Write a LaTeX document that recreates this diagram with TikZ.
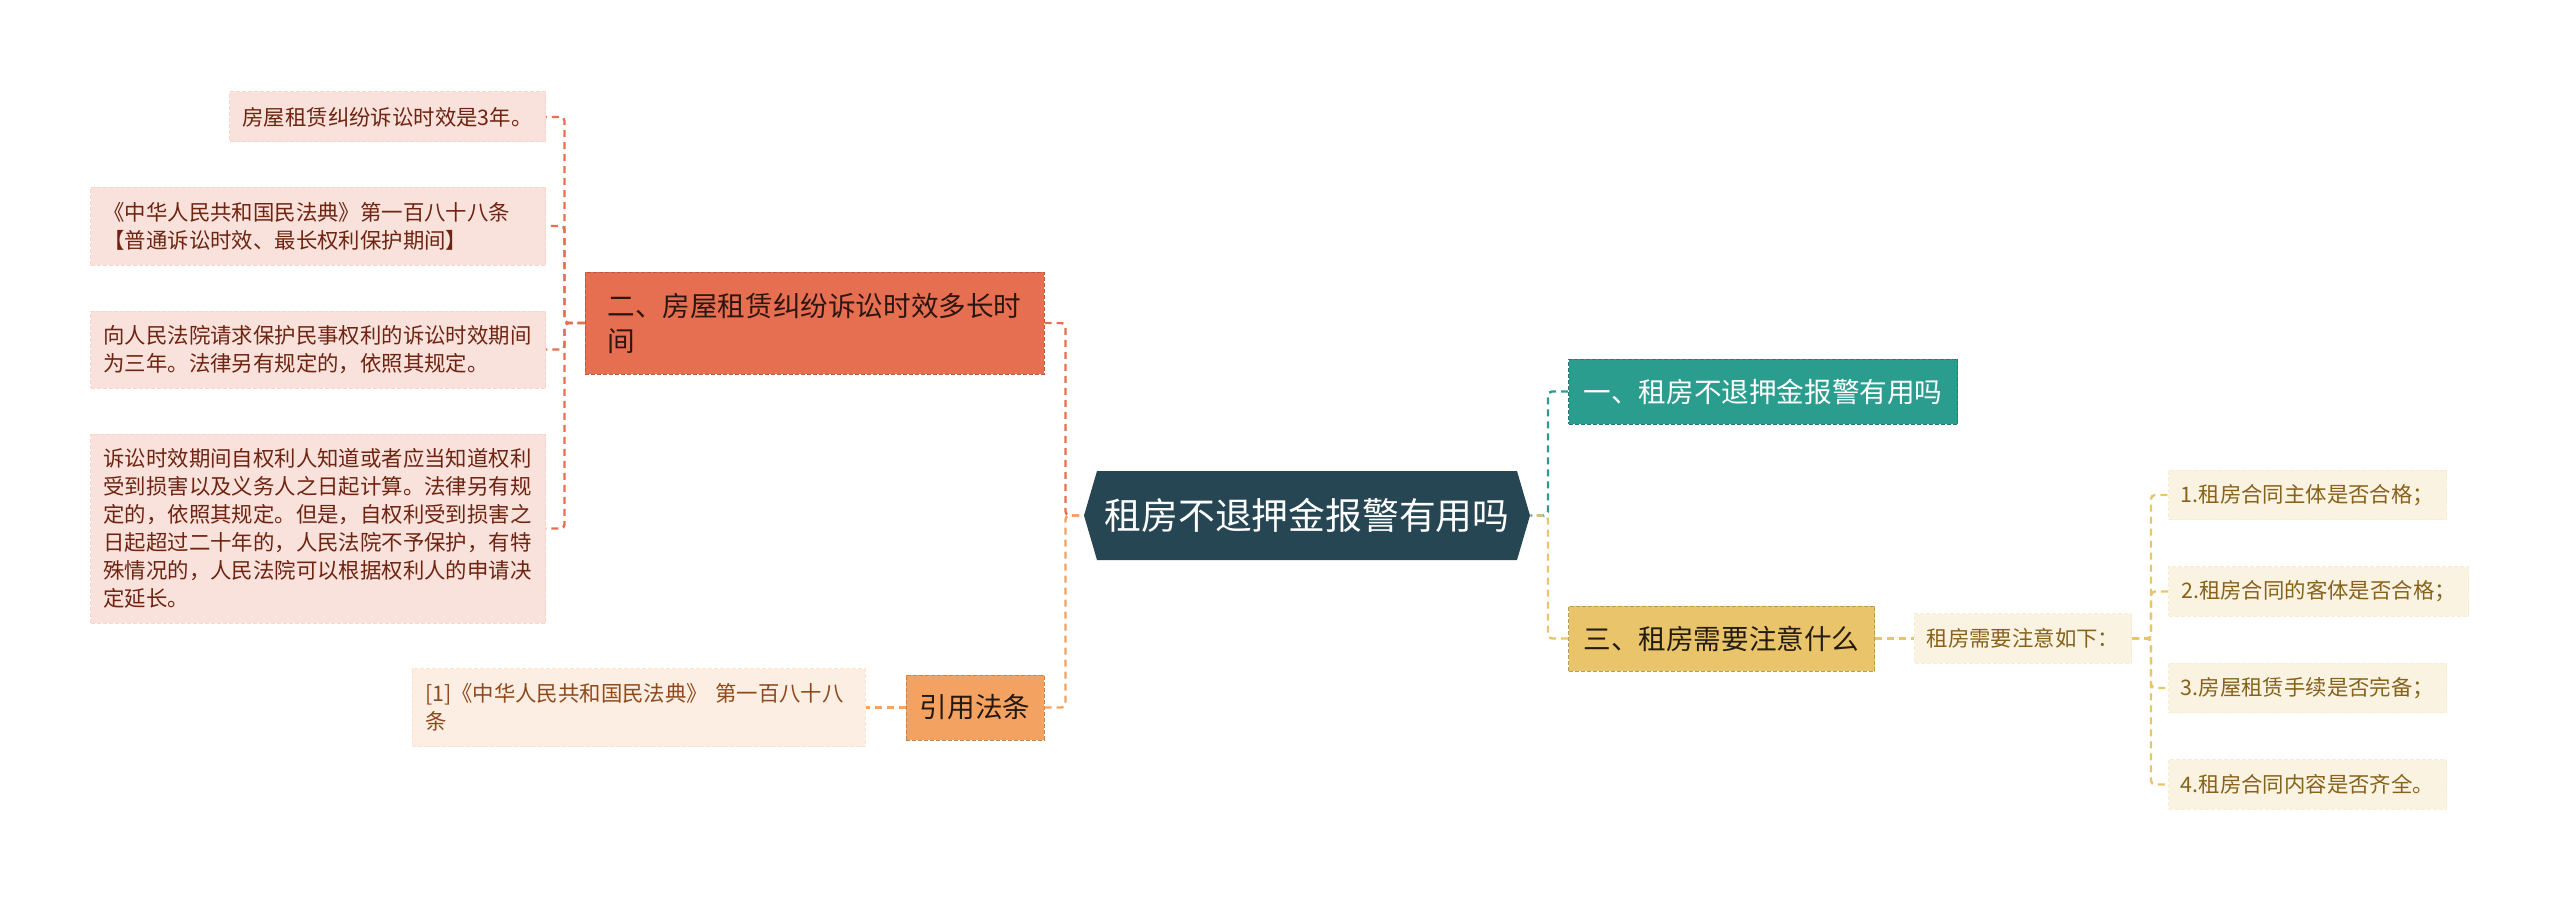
\documentclass[tikz,border=0pt]{standalone}
\usepackage{fontspec}
\setmainfont{Noto Sans CJK SC}
\usetikzlibrary{positioning}
\definecolor{rootbg}{HTML}{264653}
\definecolor{redc}{HTML}{E76F51}
\definecolor{orgc}{HTML}{F4A261}
\definecolor{tealc}{HTML}{2A9D8F}
\definecolor{yelc}{HTML}{E9C46A}
\definecolor{pinkbg}{HTML}{F9E2DC}
\definecolor{pinktxt}{HTML}{6E2410}
\definecolor{peachbg}{HTML}{FDEEE3}
\definecolor{peachtxt}{HTML}{8E4A1C}
\definecolor{creambg}{HTML}{FBF3E1}
\definecolor{creamtxt}{HTML}{86621A}

\tikzset{
  box/.style={inner sep=0pt,align=left,dashed,dash pattern=on 2pt off 1pt,line width=0.5pt},
  leafsize/.style={font=\fontsize{10.7pt}{14pt}\selectfont},
  leafL/.style={box,leafsize,fill=pinkbg,draw=redc!30,text=pinktxt,inner xsep=6.5pt},
  leafO/.style={box,leafsize,fill=peachbg,draw=orgc!30,text=peachtxt,inner xsep=6.5pt},
  leafY/.style={box,leafsize,fill=creambg,draw=yelc!30,text=creamtxt,minimum height=24.75pt},
  branch/.style={box,font=\fontsize{13.8pt}{17.5pt}\selectfont,minimum height=32.5pt},
  lnk/.style={line width=1.2pt,dash pattern=on 3.5pt off 2.5pt,rounded corners=2pt}
}

\begin{document}
\begin{tikzpicture}[x=0.5pt,y=-0.5pt,node distance=23pt]
\useasboundingbox (0,0) rectangle (2560,899);

% centre
\node (root) [inner sep=0pt,minimum width=223pt,minimum height=44.5pt,text=white,
  font=\fontsize{18.4pt}{22pt}\selectfont,
  path picture={\fill[rootbg] (path picture bounding box.west)
    -- ([xshift=6.5pt]path picture bounding box.north west)
    -- ([xshift=-6.5pt]path picture bounding box.north east)
    -- (path picture bounding box.east)
    -- ([xshift=-6.5pt]path picture bounding box.south east)
    -- ([xshift=6.5pt]path picture bounding box.south west) -- cycle;}]
  at (1307,515.5) {租房不退押金报警有用吗};

% left side
\node (b2) [branch,fill=redc,draw=redc!80!black,text=black!80!redc,minimum width=229.5pt,minimum height=51pt]
  at (814.5,323) {二、房屋租赁纠纷诉讼时效多长时\\间};
\node (l1) [leafL,anchor=east,text width=145pt,minimum height=25pt] at (546,117) {房屋租赁纠纷诉讼时效是3年。};
\node (l2) [leafL,anchor=east,text width=214.5pt,minimum height=39pt] at (546,226)
  {《中华人民共和国民法典》第一百八十八条\\【普通诉讼时效、最长权利保护期间】};
\node (l3) [leafL,anchor=east,text width=214.5pt,minimum height=38.5pt] at (546,349.5)
  {向人民法院请求保护民事权利的诉讼时效期间\\为三年。法律另有规定的，依照其规定。};
\node (l4) [leafL,anchor=east,text width=214.5pt,minimum height=94.5pt] at (546,528.5)
  {诉讼时效期间自权利人知道或者应当知道权利\\受到损害以及义务人之日起计算。法律另有规\\定的，依照其规定。但是，自权利受到损害之\\日起超过二十年的，人民法院不予保护，有特\\殊情况的，人民法院可以根据权利人的申请决\\定延长。};
\node (b4) [branch,fill=orgc,draw=orgc!80!black,text=black!85!orgc,minimum width=69pt] at (975,707.5) {引用法条};
\node (l5) [leafO,left=20pt of b4,text width=213.5pt,minimum height=39pt]
  {[1]《中华人民共和国民法典》 第一百八十八\\条};

% right side
\node (b1) [branch,fill=tealc,draw=tealc!80!black,text=white,anchor=west,minimum width=194.5pt] at (1568,391.5) {一、租房不退押金报警有用吗};
\node (b3) [branch,fill=yelc,draw=yelc!80!black,text=black!85!yelc,anchor=west,minimum width=153pt] at (1568,638.5) {三、租房需要注意什么};
\node (r0) [leafY,right=19.5pt of b3,minimum width=108.5pt] {租房需要注意如下：};
\node (i1) [leafY,anchor=west,minimum width=139pt] at (2168,495) {1.租房合同主体是否合格；};
\node (i2) [leafY,below=of i1.south west,anchor=north west,minimum width=150pt] {2.租房合同的客体是否合格；};
\node (i3) [leafY,below=of i2.south west,anchor=north west,minimum width=139pt] {3.房屋租赁手续是否完备；};
\node (i4) [leafY,below=of i3.south west,anchor=north west,minimum width=139pt] {4.租房合同内容是否齐全。};

% connectors
\draw[lnk,redc] (b2.east) -- ++(21,0) |- (root.west);
\draw[lnk,orgc] (b4.east) -- ++(21,0) |- (root.west);
\draw[lnk,redc] (b2.west) -- ++(-20,0) |- (l1.east);
\draw[lnk,redc] (b2.west) -- ++(-20,0) |- (l2.east);
\draw[lnk,redc] (b2.west) -- ++(-20,0) |- (l3.east);
\draw[lnk,redc] (b2.west) -- ++(-20,0) |- (l4.east);
\draw[lnk,orgc] (b4.west) -- (l5.east);
\draw[lnk,tealc] (b1.west) -- ++(-20,0) |- (root.east);
\draw[lnk,yelc] (b3.west) -- ++(-20,0) |- (root.east);
\draw[lnk,yelc] (b3.east) -- (r0.west);
\draw[lnk,yelc] (r0.east) -- ++(19,0) |- (i1.west);
\draw[lnk,yelc] (r0.east) -- ++(19,0) |- (i2.west);
\draw[lnk,yelc] (r0.east) -- ++(19,0) |- (i3.west);
\draw[lnk,yelc] (r0.east) -- ++(19,0) |- (i4.west);
\end{tikzpicture}
\end{document}
